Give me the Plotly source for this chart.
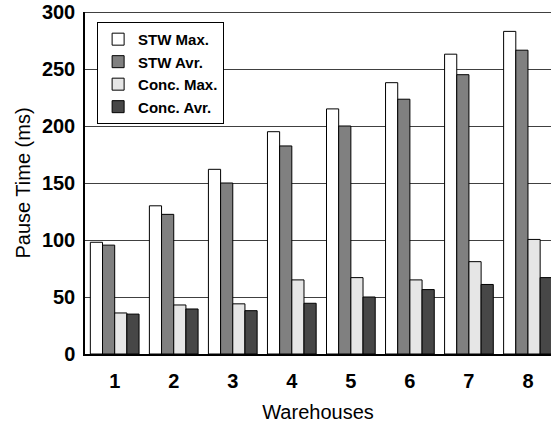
import plotly.graph_objects as go

warehouses = [1, 2, 3, 4, 5, 6, 7, 8]
tick_labels = ["1", "2", "3", "4", "5", "6", "7", "8"]
stw_max = [98, 130, 162, 195, 215, 238, 263, 283]
stw_avr = [95.5, 122.5, 150, 182.5, 200, 223.5, 245, 266.5]
conc_max = [36, 43, 44, 65, 67, 65, 81, 100.5]
conc_avr = [35, 39.5, 38, 44.5, 50, 56.5, 61, 67]

series = [
    ("STW Max.", stw_max, "#ffffff"),
    ("STW Avr.", stw_avr, "#808080"),
    ("Conc. Max.", conc_max, "#e6e6e6"),
    ("Conc. Avr.", conc_avr, "#474747"),
]

FONT = "Liberation Sans, Arial, Helvetica, sans-serif"

fig = go.Figure()
for name, vals, col in series:
    fig.add_trace(go.Bar(
        x=warehouses, y=vals, name=name,
        marker=dict(color=col, line=dict(color="#000000", width=1)),
    ))

fig.update_layout(
    width=551, height=424,
    margin=dict(l=85, r=0, t=12, b=70),
    paper_bgcolor="white", plot_bgcolor="white",
    barmode="group", bargap=0.175, bargroupgap=0,
    font=dict(family=FONT, color="black"),
    showlegend=True,
    legend=dict(
        x=0.026, y=0.971, xanchor="left", yanchor="top",
        bordercolor="#000000", borderwidth=1, bgcolor="white",
        font=dict(family=FONT, size=15, color="black", weight="bold"),
        tracegroupgap=0, itemwidth=30,
    ),
    xaxis=dict(
        range=[0.497, 8.39],
        tickmode="array", tickvals=warehouses, ticktext=tick_labels,
        tickfont=dict(family=FONT, size=20, color="black", weight="bold"),
        ticks="", ticklabelstandoff=8,
        showline=True, linecolor="#000000", linewidth=2,
        showgrid=False, zeroline=False,
        title=dict(text="Warehouses", font=dict(family=FONT, size=20, color="black"), standoff=14),
    ),
    yaxis=dict(
        range=[0, 300],
        tickmode="array", tickvals=[0, 50, 100, 150, 200, 250, 300],
        tickfont=dict(family=FONT, size=20, color="black", weight="bold"),
        ticks="", ticklabelstandoff=4,
        showline=True, linecolor="#000000", linewidth=1.5,
        showgrid=True, gridcolor="#404040", gridwidth=1,
        zeroline=False,
        title=dict(text="Pause Time (ms)", font=dict(family=FONT, size=20, color="black"), standoff=6),
    ),
)

fig.add_shape(type="line", xref="paper", yref="y", x0=0, x1=1, y0=300, y1=300,
              line=dict(color="#000000", width=1.5))

# remove the browser's default 8px body margin so the figure fills the window
fig.write_html("out.html", config={"displayModeBar": False},
               post_script="document.body.style.margin='0';")
